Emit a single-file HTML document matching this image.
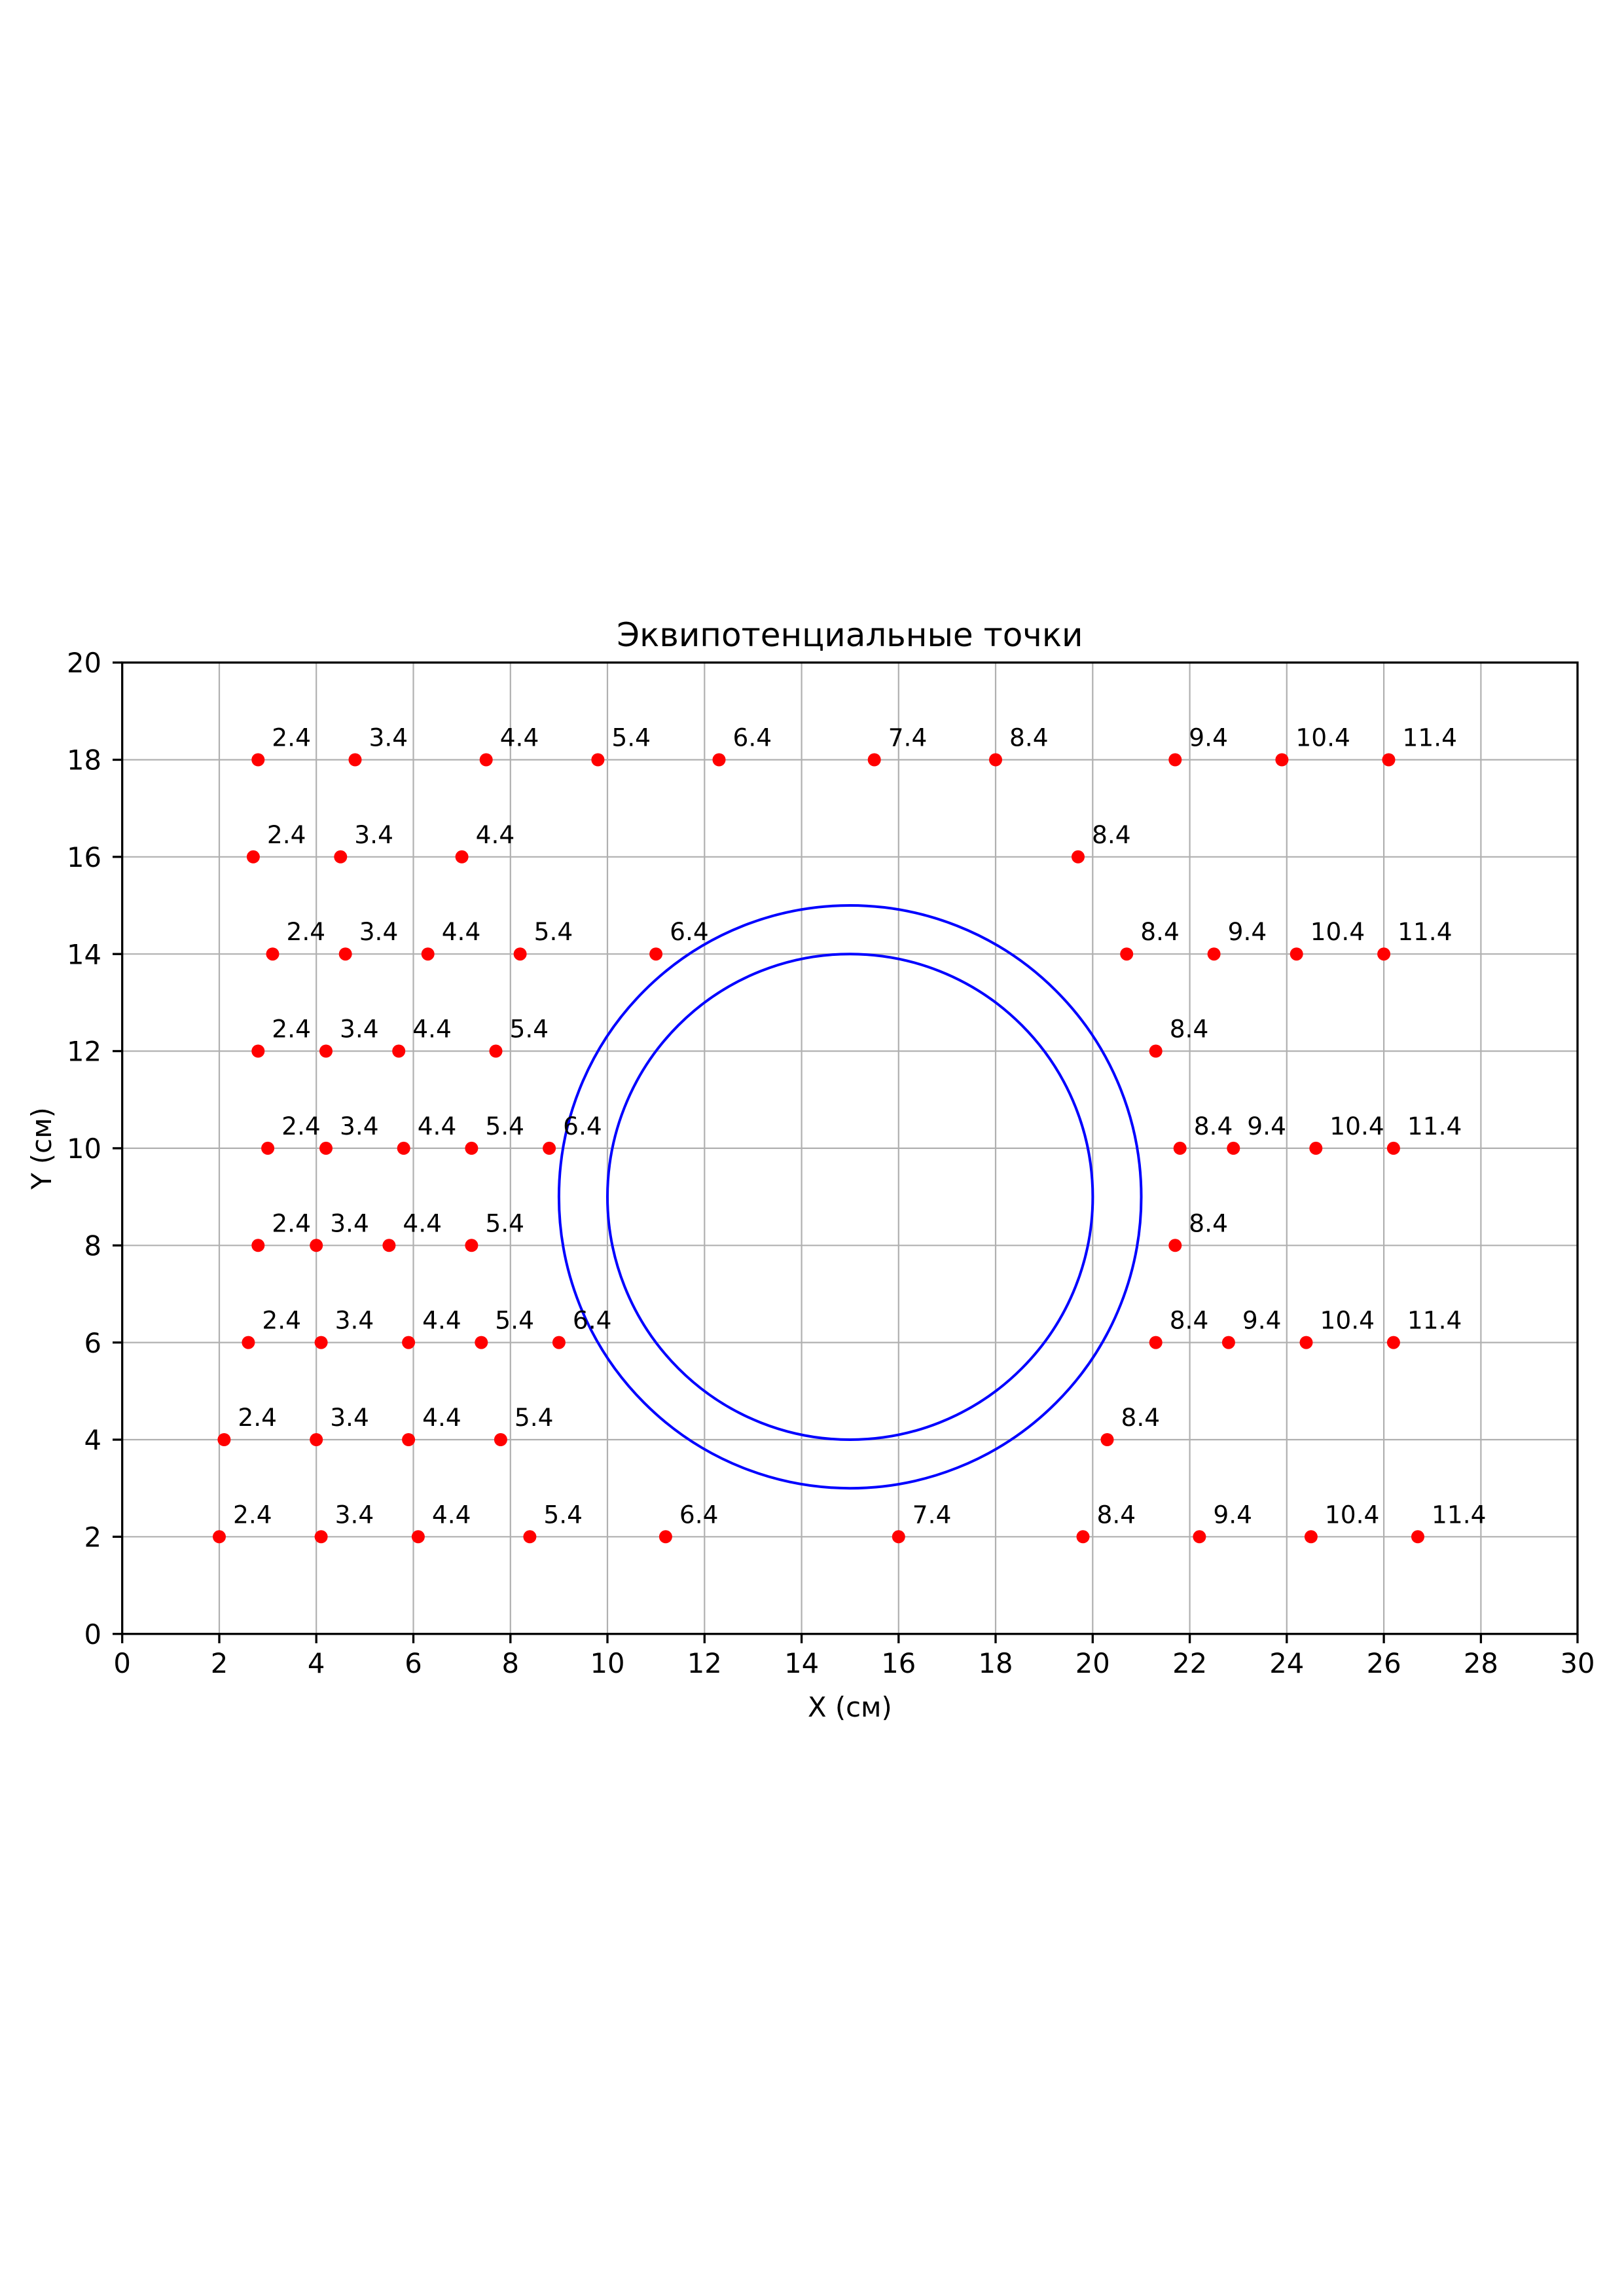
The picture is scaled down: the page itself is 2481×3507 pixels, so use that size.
<!DOCTYPE html>
<html><head><meta charset="utf-8"><style>html,body{margin:0;padding:0;background:#fff}svg{display:block}</style></head>
<body>
<svg width="2481" height="3507" viewBox="0 0 2481 3507" xmlns="http://www.w3.org/2000/svg" font-family="'DejaVu Sans','Liberation Sans',sans-serif">
<rect width="2481" height="3507" fill="#fff"/>
<g stroke="#b0b0b0" stroke-width="2.2">
<line x1="335" y1="1012" x2="335" y2="2496"/><line x1="483.2" y1="1012" x2="483.2" y2="2496"/><line x1="631.5" y1="1012" x2="631.5" y2="2496"/><line x1="779.8" y1="1012" x2="779.8" y2="2496"/><line x1="928" y1="1012" x2="928" y2="2496"/><line x1="1076.3" y1="1012" x2="1076.3" y2="2496"/><line x1="1224.6" y1="1012" x2="1224.6" y2="2496"/><line x1="1372.8" y1="1012" x2="1372.8" y2="2496"/><line x1="1521" y1="1012" x2="1521" y2="2496"/><line x1="1669.3" y1="1012" x2="1669.3" y2="2496"/><line x1="1817.6" y1="1012" x2="1817.6" y2="2496"/><line x1="1965.8" y1="1012" x2="1965.8" y2="2496"/><line x1="2114.1" y1="1012" x2="2114.1" y2="2496"/><line x1="2262.4" y1="1012" x2="2262.4" y2="2496"/>
<line x1="187" y1="1160.5" x2="2410" y2="1160.5"/><line x1="187" y1="1308.8" x2="2410" y2="1308.8"/><line x1="187" y1="1457.2" x2="2410" y2="1457.2"/><line x1="187" y1="1605.5" x2="2410" y2="1605.5"/><line x1="187" y1="1753.9" x2="2410" y2="1753.9"/><line x1="187" y1="1902.3" x2="2410" y2="1902.3"/><line x1="187" y1="2050.6" x2="2410" y2="2050.6"/><line x1="187" y1="2199" x2="2410" y2="2199"/><line x1="187" y1="2347.3" x2="2410" y2="2347.3"/>
</g>
<g fill="none" stroke="#0000ff" stroke-width="4">
<ellipse cx="1298.7" cy="1828.1" rx="444.8" ry="445.1"/>
<ellipse cx="1298.7" cy="1828.1" rx="370.7" ry="370.9"/>
</g>
<g font-size="37.5" fill="#000">
<g fill="#ff0000">
<circle cx="394.3" cy="1160.5" r="10"/><circle cx="542.5" cy="1160.5" r="10"/><circle cx="742.7" cy="1160.5" r="10"/><circle cx="913.4" cy="1160.5" r="10"/><circle cx="1098.5" cy="1160.5" r="10"/><circle cx="1335.7" cy="1160.5" r="10"/><circle cx="1521" cy="1160.5" r="10"/><circle cx="1795.3" cy="1160.5" r="10"/><circle cx="1958.4" cy="1160.5" r="10"/><circle cx="2121.5" cy="1160.5" r="10"/>
<circle cx="386.9" cy="1308.8" r="10"/><circle cx="520.3" cy="1308.8" r="10"/><circle cx="705.6" cy="1308.8" r="10"/><circle cx="1647" cy="1308.8" r="10"/>
<circle cx="416.5" cy="1457.2" r="10"/><circle cx="527.7" cy="1457.2" r="10"/><circle cx="653.7" cy="1457.2" r="10"/><circle cx="794.6" cy="1457.2" r="10"/><circle cx="1002.1" cy="1457.2" r="10"/><circle cx="1721.2" cy="1457.2" r="10"/><circle cx="1854.6" cy="1457.2" r="10"/><circle cx="1980.7" cy="1457.2" r="10"/><circle cx="2114.1" cy="1457.2" r="10"/>
<circle cx="394.3" cy="1605.5" r="10"/><circle cx="498" cy="1605.5" r="10"/><circle cx="609.2" cy="1605.5" r="10"/><circle cx="757.5" cy="1605.5" r="10"/><circle cx="1765.7" cy="1605.5" r="10"/>
<circle cx="409.1" cy="1753.9" r="10"/><circle cx="498" cy="1753.9" r="10"/><circle cx="616.7" cy="1753.9" r="10"/><circle cx="720.4" cy="1753.9" r="10"/><circle cx="839.1" cy="1753.9" r="10"/><circle cx="1802.7" cy="1753.9" r="10"/><circle cx="1884.3" cy="1753.9" r="10"/><circle cx="2010.3" cy="1753.9" r="10"/><circle cx="2128.9" cy="1753.9" r="10"/>
<circle cx="394.3" cy="1902.3" r="10"/><circle cx="483.2" cy="1902.3" r="10"/><circle cx="594.4" cy="1902.3" r="10"/><circle cx="720.4" cy="1902.3" r="10"/><circle cx="1795.3" cy="1902.3" r="10"/>
<circle cx="379.4" cy="2050.6" r="10"/><circle cx="490.6" cy="2050.6" r="10"/><circle cx="624.1" cy="2050.6" r="10"/><circle cx="735.3" cy="2050.6" r="10"/><circle cx="853.9" cy="2050.6" r="10"/><circle cx="1765.7" cy="2050.6" r="10"/><circle cx="1876.9" cy="2050.6" r="10"/><circle cx="1995.5" cy="2050.6" r="10"/><circle cx="2128.9" cy="2050.6" r="10"/>
<circle cx="342.4" cy="2199" r="10"/><circle cx="483.2" cy="2199" r="10"/><circle cx="624.1" cy="2199" r="10"/><circle cx="764.9" cy="2199" r="10"/><circle cx="1691.5" cy="2199" r="10"/>
<circle cx="335" cy="2347.3" r="10"/><circle cx="490.6" cy="2347.3" r="10"/><circle cx="638.9" cy="2347.3" r="10"/><circle cx="809.4" cy="2347.3" r="10"/><circle cx="1016.9" cy="2347.3" r="10"/><circle cx="1372.8" cy="2347.3" r="10"/><circle cx="1654.5" cy="2347.3" r="10"/><circle cx="1832.4" cy="2347.3" r="10"/><circle cx="2002.9" cy="2347.3" r="10"/><circle cx="2166" cy="2347.3" r="10"/>
</g>
<text x="415.3" y="1139.5">2.4</text><text x="563.5" y="1139.5">3.4</text><text x="763.7" y="1139.5">4.4</text><text x="934.4" y="1139.5">5.4</text><text x="1119.5" y="1139.5">6.4</text><text x="1356.7" y="1139.5">7.4</text><text x="1542" y="1139.5">8.4</text><text x="1816.3" y="1139.5">9.4</text><text x="1979.4" y="1139.5">10.4</text><text x="2142.5" y="1139.5">11.4</text>
<text x="407.9" y="1287.8">2.4</text><text x="541.3" y="1287.8">3.4</text><text x="726.6" y="1287.8">4.4</text><text x="1668" y="1287.8">8.4</text>
<text x="437.5" y="1436.2">2.4</text><text x="548.7" y="1436.2">3.4</text><text x="674.7" y="1436.2">4.4</text><text x="815.6" y="1436.2">5.4</text><text x="1023.1" y="1436.2">6.4</text><text x="1742.2" y="1436.2">8.4</text><text x="1875.6" y="1436.2">9.4</text><text x="2001.7" y="1436.2">10.4</text><text x="2135.1" y="1436.2">11.4</text>
<text x="415.3" y="1584.5">2.4</text><text x="519" y="1584.5">3.4</text><text x="630.2" y="1584.5">4.4</text><text x="778.5" y="1584.5">5.4</text><text x="1786.7" y="1584.5">8.4</text>
<text x="430.1" y="1732.9">2.4</text><text x="519" y="1732.9">3.4</text><text x="637.7" y="1732.9">4.4</text><text x="741.4" y="1732.9">5.4</text><text x="860.1" y="1732.9">6.4</text><text x="1823.7" y="1732.9">8.4</text><text x="1905.3" y="1732.9">9.4</text><text x="2031.3" y="1732.9">10.4</text><text x="2149.9" y="1732.9">11.4</text>
<text x="415.3" y="1881.3">2.4</text><text x="504.2" y="1881.3">3.4</text><text x="615.4" y="1881.3">4.4</text><text x="741.4" y="1881.3">5.4</text><text x="1816.3" y="1881.3">8.4</text>
<text x="400.4" y="2029.6">2.4</text><text x="511.6" y="2029.6">3.4</text><text x="645.1" y="2029.6">4.4</text><text x="756.3" y="2029.6">5.4</text><text x="874.9" y="2029.6">6.4</text><text x="1786.7" y="2029.6">8.4</text><text x="1897.9" y="2029.6">9.4</text><text x="2016.5" y="2029.6">10.4</text><text x="2149.9" y="2029.6">11.4</text>
<text x="363.4" y="2178">2.4</text><text x="504.2" y="2178">3.4</text><text x="645.1" y="2178">4.4</text><text x="785.9" y="2178">5.4</text><text x="1712.5" y="2178">8.4</text>
<text x="356" y="2326.3">2.4</text><text x="511.6" y="2326.3">3.4</text><text x="659.9" y="2326.3">4.4</text><text x="830.4" y="2326.3">5.4</text><text x="1037.9" y="2326.3">6.4</text><text x="1393.8" y="2326.3">7.4</text><text x="1675.5" y="2326.3">8.4</text><text x="1853.4" y="2326.3">9.4</text><text x="2023.9" y="2326.3">10.4</text><text x="2187" y="2326.3">11.4</text>
</g>
<rect x="186.7" y="1012" width="2223.3" height="1483.7" fill="none" stroke="#000" stroke-width="3.3"/>
<g stroke="#000" stroke-width="3.3">
<line x1="186.7" y1="2496" x2="186.7" y2="2510"/><line x1="335" y1="2496" x2="335" y2="2510"/><line x1="483.2" y1="2496" x2="483.2" y2="2510"/><line x1="631.5" y1="2496" x2="631.5" y2="2510"/><line x1="779.8" y1="2496" x2="779.8" y2="2510"/><line x1="928" y1="2496" x2="928" y2="2510"/><line x1="1076.3" y1="2496" x2="1076.3" y2="2510"/><line x1="1224.6" y1="2496" x2="1224.6" y2="2510"/><line x1="1372.8" y1="2496" x2="1372.8" y2="2510"/><line x1="1521" y1="2496" x2="1521" y2="2510"/><line x1="1669.3" y1="2496" x2="1669.3" y2="2510"/><line x1="1817.6" y1="2496" x2="1817.6" y2="2510"/><line x1="1965.8" y1="2496" x2="1965.8" y2="2510"/><line x1="2114.1" y1="2496" x2="2114.1" y2="2510"/><line x1="2262.4" y1="2496" x2="2262.4" y2="2510"/><line x1="2410" y1="2496" x2="2410" y2="2510"/>
<line x1="172" y1="2495.7" x2="187" y2="2495.7"/><line x1="172" y1="2347.3" x2="187" y2="2347.3"/><line x1="172" y1="2199" x2="187" y2="2199"/><line x1="172" y1="2050.6" x2="187" y2="2050.6"/><line x1="172" y1="1902.3" x2="187" y2="1902.3"/><line x1="172" y1="1753.9" x2="187" y2="1753.9"/><line x1="172" y1="1605.5" x2="187" y2="1605.5"/><line x1="172" y1="1457.2" x2="187" y2="1457.2"/><line x1="172" y1="1308.8" x2="187" y2="1308.8"/><line x1="172" y1="1160.5" x2="187" y2="1160.5"/><line x1="172" y1="1012" x2="187" y2="1012"/>
</g>
<g font-size="41.7" text-anchor="middle" fill="#000">
<text x="186.7" y="2555">0</text><text x="335" y="2555">2</text><text x="483.2" y="2555">4</text><text x="631.5" y="2555">6</text><text x="779.8" y="2555">8</text><text x="928" y="2555">10</text><text x="1076.3" y="2555">12</text><text x="1224.6" y="2555">14</text><text x="1372.8" y="2555">16</text><text x="1521" y="2555">18</text><text x="1669.3" y="2555">20</text><text x="1817.6" y="2555">22</text><text x="1965.8" y="2555">24</text><text x="2114.1" y="2555">26</text><text x="2262.4" y="2555">28</text><text x="2410" y="2555">30</text>
</g>
<g font-size="41.7" text-anchor="end" fill="#000">
<text x="155" y="2511">0</text><text x="155" y="2362.5">2</text><text x="155" y="2214">4</text><text x="155" y="2065.8">6</text><text x="155" y="1917.5">8</text><text x="155" y="1769">10</text><text x="155" y="1620.7">12</text><text x="155" y="1472.4">14</text><text x="155" y="1324">16</text><text x="155" y="1175.7">18</text><text x="155" y="1027.2">20</text>
</g>
<text x="1298.4" y="2622" font-size="41.7" text-anchor="middle">X (см)</text>
<text transform="translate(78,1754) rotate(-90)" font-size="41.7" text-anchor="middle">Y (см)</text>
<text x="1298.4" y="987" font-size="50" text-anchor="middle">Эквипотенциальные точки</text>
</svg>
</body></html>
